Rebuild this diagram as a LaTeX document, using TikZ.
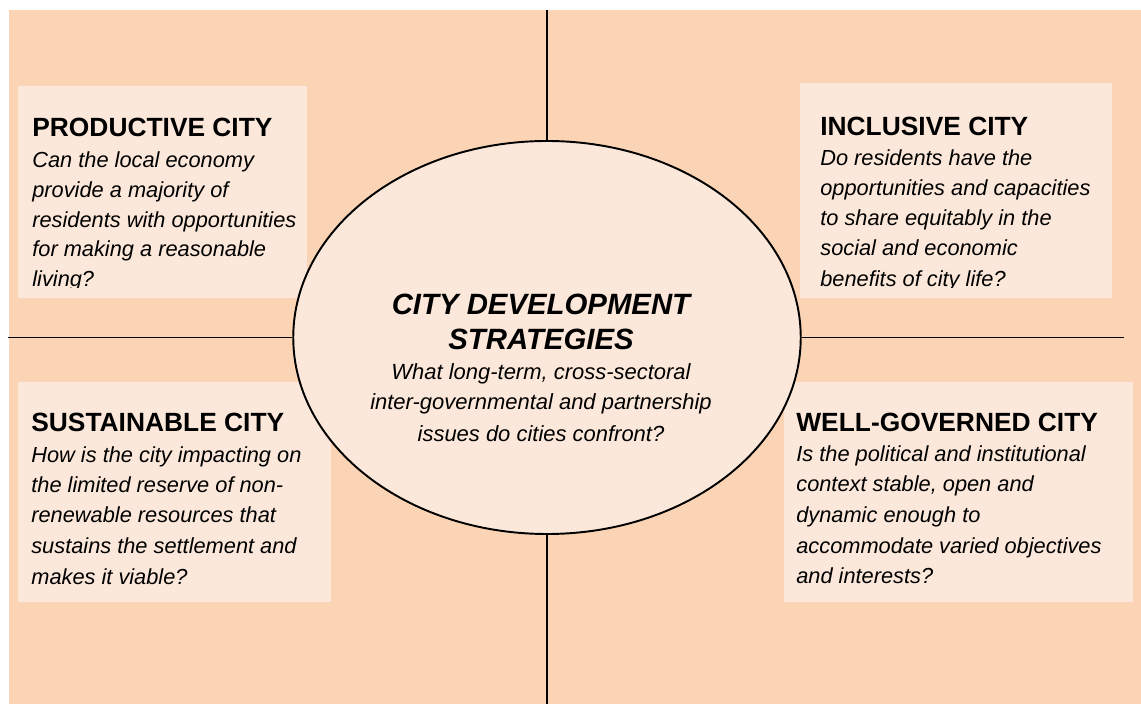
\documentclass[tikz,border=0pt]{standalone}
\usepackage{fontspec}
\setmainfont{Liberation Sans}
\usepackage{xcolor}
\usetikzlibrary{shapes.geometric}

\definecolor{peach}{RGB}{250,212,180}
\definecolor{lightpeach}{RGB}{252,232,218}

\tikzset{
	head/.style={anchor=base west, inner sep=0pt, font=\bfseries\fontsize{15}{18}\selectfont},
	txt/.style={anchor=base west, inner sep=0pt, font=\itshape\fontsize{12.4}{15}\selectfont},
	ctitle/.style={anchor=base, inner sep=0pt, font=\bfseries\itshape\fontsize{16.7}{20}\selectfont},
	ctxt/.style={anchor=base, inner sep=0pt, font=\itshape\fontsize{12.5}{15}\selectfont},
	panel/.style={fill=lightpeach}
}

\begin{document}
\begin{tikzpicture}
				\useasboundingbox (0,0) rectangle (22.82,14.08);
				\fill[peach] (0.18,0) rectangle (22.82,13.88);
				% the four panels
				\fill[panel] (0.36,8.12) rectangle (6.14,12.36);
				\fill[panel] (16,8.12) rectangle (22.24,12.42);
				\fill[panel] (0.36,2.04) rectangle (6.62,6.44);
				\fill[panel] (15.68,2.04) rectangle (22.66,6.44);
				\begin{scope}
				\clip (0,8.33) rectangle (22.82,14.08);
				\node[head] (B) at (0.64,11.35){PRODUCTIVE CITY};
				\node[txt] (C) at (0.64,10.73){Can the local economy};
				\node[txt] (D) at (0.64,10.13){provide a majority of};
				\node[txt] (E) at (0.64,9.53){residents with opportunities};
				\node[txt] (F) at (0.64,8.94){for making a reasonable};
				\node[txt] (G) at (0.64,8.35){living?};
				\node[head] (H) at (16.4,11.37){INCLUSIVE CITY};
				\node[txt] (I) at (16.4,10.77){Do residents have the};
				\node[txt] (J) at (16.4,10.17){opportunities and capacities};
				\node[txt] (K) at (16.4,9.57){to share equitably in the};
				\node[txt] (L) at (16.4,8.96){social and economic};
				\node[txt] (M) at (16.4,8.35){benefits of city life?};
				\end{scope}
				\node[head] (N) at (0.62,5.44){SUSTAINABLE CITY};
				\node[txt] (O) at (0.62,4.83){How is the city impacting on};
				\node[txt] (P) at (0.62,4.23){the limited reserve of non-};
				\node[txt] (Q) at (0.62,3.62){renewable resources that};
				\node[txt] (R) at (0.62,3.01){sustains the settlement and};
				\node[txt] (S) at (0.62,2.39){makes it viable?};
				\node[head] (T) at (15.92,5.44){WELL-GOVERNED CITY};
				\node[txt] (U) at (15.92,4.85){Is the political and institutional};
				\node[txt] (V) at (15.92,4.25){context stable, open and};
				\node[txt] (W) at (15.92,3.63){dynamic enough to};
				\node[txt] (X) at (15.92,3.01){accommodate varied objectives};
				\node[txt] (Y) at (15.92,2.4){and interests?};
				% centre
				\node[ellipse, draw=black, line width=1.1pt, fill=lightpeach, minimum width=10.15cm, minimum height=7.86cm, inner sep=0pt] (A) at (10.94,7.33){};
				\coordinate (a) at (10.94,13.88);
				\coordinate (b) at (10.94,0);
				\coordinate (c) at (0.16,7.33);
				\coordinate (d) at (22.48,7.33);
				\draw[black, thick] (a)--(A.north);
				\draw[black, thick] (A.south)--(b);
				\draw[black, thick] (c)--(A.west);
				\draw[black, thick] (A.east)--(d);
				\node[ctitle] (Z) at (10.82,7.78){CITY DEVELOPMENT};
				\node[ctitle] (e) at (10.82,7.09){STRATEGIES};
				\node[ctxt] (f) at (10.82,6.48){What long-term, cross-sectoral};
				\node[ctxt] (g) at (10.82,5.88){inter-governmental and partnership};
				\node[ctxt] (h) at (10.82,5.25){issues do cities confront?};
			\end{tikzpicture}
\end{document}
